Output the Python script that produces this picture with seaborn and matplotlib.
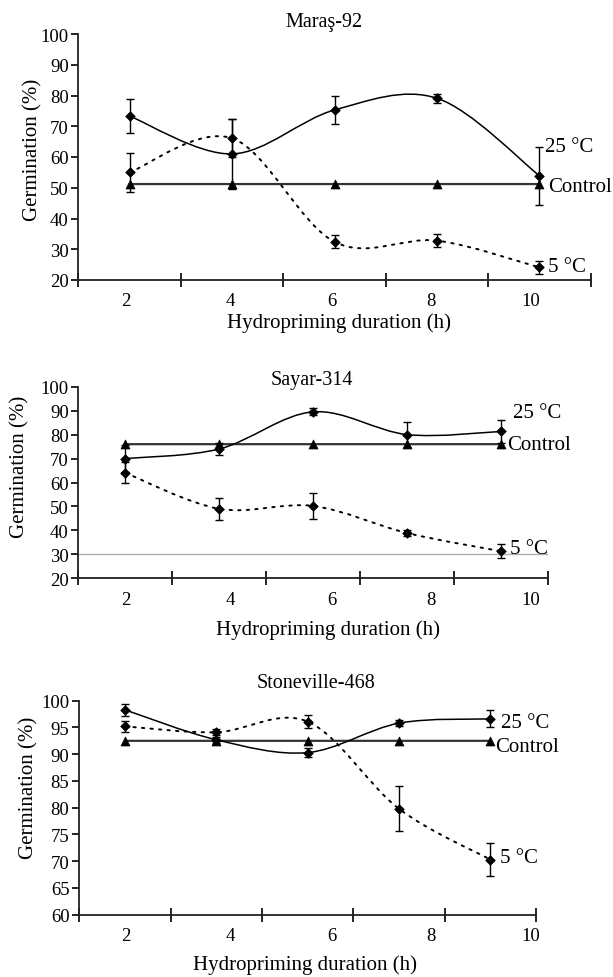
"""
Germinación de semillas de algodón según la duración del hidropriming.
Tres paneles (Maraş-92, Sayar-314, Stoneville-468) con 25 °C, 5 °C y control.
"""

import numpy as np
import matplotlib
matplotlib.use("Agg")
import matplotlib.pyplot as plt
from matplotlib.path import Path
from matplotlib.patches import PathPatch
import seaborn as sns

HORAS = ["2", "4", "6", "8", "10"]
POSICIONES = [0, 1, 2, 3, 4]

MARAS_25 = [73.3, 61.0, 75.3, 79.1, 53.9]
MARAS_25_ERR = [5.6, 11.4, 4.7, 1.5, 9.5]
MARAS_5 = [55.0, 66.1, 32.4, 32.8, 24.1]
MARAS_5_ERR = [6.4, 6.2, 2.1, 2.2, 2.0]
MARAS_CTRL = [51.2, 51.2, 51.2, 51.2, 51.2]

SAYAR_25 = [70.0, 74.0, 89.5, 80.0, 81.3]
SAYAR_25_ERR = [5.5, 2.5, 1.4, 5.2, 4.8]
SAYAR_5 = [64.0, 49.0, 50.2, 38.9, 31.3]
SAYAR_5_ERR = [4.4, 4.7, 5.3, 1.4, 2.9]
SAYAR_CTRL = [76.0, 76.0, 76.0, 76.0, 76.0]

STONE_25 = [98.3, 92.7, 90.3, 95.8, 96.6]
STONE_25_ERR = [1.1, 0.6, 0.85, 0.5, 1.6]
STONE_5 = [95.2, 94.1, 96.1, 79.8, 70.3]
STONE_5_ERR = [1.0, 0.6, 1.25, 4.2, 3.1]
STONE_CTRL = [92.5, 92.5, 92.5, 92.5, 92.5]

W, H = 613, 978

sns.set_theme(style="ticks")
plt.rcParams["font.family"] = ["Liberation Serif", "DejaVu Serif"]
plt.rcParams.update({
    "text.color": "black", "axes.labelcolor": "black",
    "xtick.color": "black", "ytick.color": "black",
    "axes.edgecolor": "#222222", "axes.linewidth": 1.3,
})


def rect_px(izq, der, arriba, abajo):
    return [izq / W, 1 - abajo / H, (der - izq) / W, (abajo - arriba) / H]


def curva_suave(ax, x, y, **kw):
    """Línea suavizada al estilo Excel (Catmull-Rom como Bézier cúbica)."""
    pts = np.column_stack([x, y]).astype(float)
    ext = np.vstack([pts[0], pts, pts[-1]])
    verts = [pts[0]]
    codes = [Path.MOVETO]
    for i in range(len(pts) - 1):
        p0, p1, p2, p3 = ext[i], ext[i + 1], ext[i + 2], ext[i + 3]
        verts += [p1 + (p2 - p0) / 6, p2 - (p3 - p1) / 6, p2]
        codes += [Path.CURVE4] * 3
    ax.add_patch(PathPatch(Path(verts, codes), fill=False, **kw))


def texto_px(fig, x, y, s, **kw):
    fig.text(x / W, 1 - y / H, s, **kw)


def panel(fig, caja, ylim, ystep, s25, e25, s5, e5, ctrl, titulo, etiquetas, ejes):
    izq, der, arriba, abajo = caja
    ax = fig.add_axes(rect_px(izq, der, arriba, abajo))
    ax.set_xlim(-0.5, 4.5)
    ax.set_ylim(*ylim)
    sns.despine(ax=ax)

    curva_suave(ax, POSICIONES, ctrl, color="#333333", lw=1.6, zorder=2)
    curva_suave(ax, POSICIONES, s25, color="black", lw=1.1, zorder=2)
    curva_suave(ax, POSICIONES, s5, color="black", lw=1.4,
                linestyle=(0, (1.2, 3.2)), capstyle="round", zorder=2)

    for serie, err in [(s25, e25), (s5, e5)]:
        ax.errorbar(POSICIONES, serie, yerr=err, fmt="none", ecolor="black",
                    elinewidth=1.0, capsize=2.6, capthick=1.0, zorder=3)

    sns.scatterplot(x=POSICIONES, y=ctrl, marker="^", s=42, color="black",
                    edgecolor="black", linewidth=0.5, ax=ax, zorder=4)
    for serie in (s25, s5):
        sns.scatterplot(x=POSICIONES, y=serie, marker="D", s=24, color="black",
                        edgecolor="black", linewidth=0.5, ax=ax, zorder=4)

    ax.set_yticks(np.arange(ylim[0], ylim[1] + 0.1, ystep))
    ax.tick_params(axis="y", direction="out", length=5, width=1.2, pad=2, labelsize=13.5)

    # marcas del eje x en los bordes de categoría; etiquetas como en el original
    ax.set_xticks(np.arange(-0.5, 4.6, 1.0))
    ax.set_xticklabels([])
    lab_px = [126, 230, 332, 431, 531]
    ax.set_xticks([-0.5 + (p - izq) / (der - izq) * 5 for p in lab_px], minor=True)
    ax.set_xticklabels(HORAS, minor=True)
    ax.tick_params(axis="x", which="major", direction="inout", length=10, width=1.2)
    ax.tick_params(axis="x", which="minor", length=0, pad=9, labelsize=13.5)

    tx, ty = titulo[1]
    texto_px(fig, tx, ty, titulo[0], ha="center", va="center", fontsize=14.5)
    (xlx, xly), (ylx, yly) = ejes
    texto_px(fig, xlx, xly, "Hydropriming duration (h)", ha="center", va="center", fontsize=15)
    texto_px(fig, ylx, yly, "Germination (%)", ha="center", va="center",
             rotation=90, fontsize=15)
    for s, (x, y) in etiquetas:
        texto_px(fig, x, y, s, ha="left", va="center", fontsize=15)
    return ax


def main():
    fig = plt.figure(figsize=(W / 100, H / 100), dpi=100)

    panel(fig, (78.4, 590.7, 35, 281), (20, 100), 10,
          MARAS_25, MARAS_25_ERR, MARAS_5, MARAS_5_ERR, MARAS_CTRL,
          ("Maraş-92", (324, 22)),
          [("25 °C", (545, 147)), ("Control", (548, 188)), ("5 °C", (548, 267))],
          ((339, 323), (33, 150)))

    ax2 = panel(fig, (78.4, 548, 387.7, 579.3), (20, 100), 10,
                SAYAR_25, SAYAR_25_ERR, SAYAR_5, SAYAR_5_ERR, SAYAR_CTRL,
                ("Sayar-314", (312, 380)),
                [("25 °C", (513, 413)), ("Control", (507, 446)), ("5 °C", (510, 550))],
                ((328, 630), (20, 467)))
    ax2.axhline(30, color="#b0b0b0", lw=1.0, zorder=1)

    panel(fig, (79.2, 536, 701.7, 915.7), (60, 100), 5,
          STONE_25, STONE_25_ERR, STONE_5, STONE_5_ERR, STONE_CTRL,
          ("Stoneville-468", (316, 684)),
          [("25 °C", (501, 724)), ("Control", (495, 747)), ("5 °C", (500, 859))],
          ((305, 965), (29, 788)))

    fig.savefig("out.png", dpi=100)
    plt.close(fig)


if __name__ == "__main__":
    main()
